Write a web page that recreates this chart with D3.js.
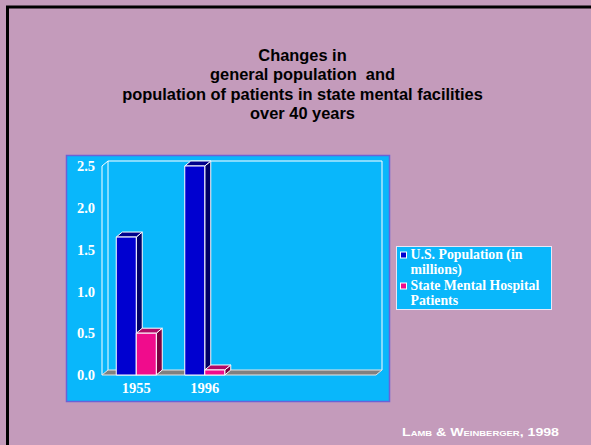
<!DOCTYPE html>
<html>
<head>
<meta charset="utf-8">
<script src="https://cdn.jsdelivr.net/npm/d3@7"></script>
<style>
  html, body { margin: 0; padding: 0; background: #c49bbb; }
  svg { display: block; }
</style>
</head>
<body>
<svg id="chart" width="591" height="445"></svg>
<script>
// Data
const categories = ["1955", "1996"];
const seriesNames = ["U.S. Population (in millions)", "State Mental Hospital Patients"];
const usPopulation = [1.65, 2.5];
const hospitalPatients = [0.5, 0.06];
const yTicks = [0, 0.5, 1.0, 1.5, 2.0, 2.5];
const titleLines = [
  "Changes in",
  "general population  and",
  "population of patients in state mental facilities",
  "over 40 years"
];
const legendLines = [["U.S. Population (in", "millions)"], ["State Mental Hospital", "Patients"]];
const sourceText = "Lamb & Weinberger, 1998";

const svg = d3.select("#chart");
const W = 591, H = 445;

// slide background and frame
svg.append("rect").attr("width", W).attr("height", H).attr("fill", "#c49bbb");
svg.append("line").attr("x1", 6).attr("x2", W).attr("y1", 7).attr("y2", 7)
  .attr("stroke", "#000").attr("stroke-width", 3);
svg.append("line").attr("x1", 7.5).attr("x2", 7.5).attr("y1", 6).attr("y2", H)
  .attr("stroke", "#000").attr("stroke-width", 3);

// title
const title = svg.append("text")
  .attr("text-anchor", "middle")
  .attr("font-family", "Liberation Sans, Arial, sans-serif")
  .attr("font-weight", "bold").attr("font-size", 16.4).attr("fill", "#000")
  .style("white-space", "pre");
titleLines.forEach((t, i) => {
  title.append("tspan").attr("x", 302.5).attr("y", 61 + i * 19.3).text(t);
});

// chart panel
svg.append("rect").attr("x", 66.5).attr("y", 155.5).attr("width", 323).attr("height", 246)
  .attr("fill", "#09b7fb").attr("stroke", "#6a62d6").attr("stroke-width", 1.5);

// plot geometry (front plane) and depth offset
const left = 102, right = 376, dx = 6, dy = 5;
const slots = 4; // category slots along the axis
const x = d3.scaleBand().domain(d3.range(slots)).range([left, right]);
const y = d3.scaleLinear().domain([0, 2.5]).range([375, 166]);
const barW = 20;

const wall = svg.append("g").attr("fill", "none").attr("stroke", "#ffffff").attr("stroke-width", 1);

// floor
svg.append("path")
  .attr("d", `M${left},${y(0)} L${right},${y(0)} L${right + dx},${y(0) - dy} L${left + dx},${y(0) - dy} Z`)
  .attr("fill", "#808080").attr("stroke", "#e6e6e6").attr("stroke-width", 1);

// back wall and side wall outlines
wall.append("path")
  .attr("d", `M${left + dx},${y(0) - dy} L${left + dx},${y(2.5) - dy} L${right + dx},${y(2.5) - dy} L${right + dx},${y(0) - dy}`);
wall.append("path")
  .attr("d", `M${left},${y(0)} L${left},${y(2.5)} L${left + dx},${y(2.5) - dy}`);

// y axis tick labels
svg.append("g").selectAll("text").data(yTicks).join("text")
  .attr("x", 95).attr("y", d => y(d)).attr("dy", "0.36em")
  .attr("text-anchor", "end")
  .attr("font-family", "Liberation Serif, Times New Roman, serif")
  .attr("font-weight", "bold").attr("font-size", 14.5).attr("fill", "#fff")
  .text(d => d.toFixed(1));

// category labels
svg.append("g").selectAll("text").data(categories).join("text")
  .attr("x", (d, i) => x(i) + x.bandwidth() / 2).attr("y", 393)
  .attr("text-anchor", "middle")
  .attr("font-family", "Liberation Serif, Times New Roman, serif")
  .attr("font-weight", "bold").attr("font-size", 14.5).attr("fill", "#fff")
  .text(d => d);

// 3D bars
const palettes = [
  { front: "#0000d0", side: "#000066", top: "#00008c" },
  { front: "#f00c8c", side: "#7a0040", top: "#b00a66" }
];
const series = [usPopulation, hospitalPatients];
const bars = [];
categories.forEach((c, i) => {
  series.forEach((vals, s) => {
    const cx = x(i) + x.bandwidth() / 2;
    const x0 = cx - barW + s * barW;
    bars.push({ x0, x1: x0 + barW, v: vals[i], pal: palettes[s] });
  });
});
const barG = svg.append("g").attr("stroke", "#ffffff").attr("stroke-width", 1).attr("stroke-linejoin", "round");
bars.forEach(b => {
  const yt = y(b.v), yb = y(0);
  const g = barG.append("g");
  g.append("path")
    .attr("d", `M${b.x1},${yt} L${b.x1 + dx},${yt - dy} L${b.x1 + dx},${yb - dy} L${b.x1},${yb} Z`)
    .attr("fill", b.pal.side);
  g.append("path")
    .attr("d", `M${b.x0},${yt} L${b.x0 + dx},${yt - dy} L${b.x1 + dx},${yt - dy} L${b.x1},${yt} Z`)
    .attr("fill", b.pal.top);
  g.append("rect").attr("x", b.x0).attr("y", yt).attr("width", barW).attr("height", yb - yt)
    .attr("fill", b.pal.front);
});

// legend
svg.append("rect").attr("x", 396.5).attr("y", 246.5).attr("width", 155).attr("height", 63)
  .attr("fill", "#09b7fb").attr("stroke", "#e8e8f8").attr("stroke-width", 1);
const leg = svg.append("g");
legendLines.forEach((lines, i) => {
  const baseY = 258.5 + i * 31;
  leg.append("rect").attr("x", 400.5).attr("y", baseY - 6.5).attr("width", 6).attr("height", 6)
    .attr("fill", palettes[i].front).attr("stroke", "#fff").attr("stroke-width", 1);
  const t = leg.append("text")
    .attr("font-family", "Liberation Serif, Times New Roman, serif")
    .attr("font-weight", "bold").attr("font-size", 13.8).attr("fill", "#fff");
  lines.forEach((l, j) => {
    t.append("tspan").attr("x", 410.5).attr("y", baseY + j * 15).text(l);
  });
});

// source note
svg.append("text")
  .attr("x", 402).attr("y", 436)
  .attr("font-family", "Liberation Sans, Arial, sans-serif")
  .attr("font-weight", "bold").attr("font-size", 10.5)
  .attr("font-variant", "small-caps")
  .attr("textLength", 157).attr("lengthAdjust", "spacingAndGlyphs")
  .attr("fill", "#fff")
  .text(sourceText);
</script>
</body>
</html>
